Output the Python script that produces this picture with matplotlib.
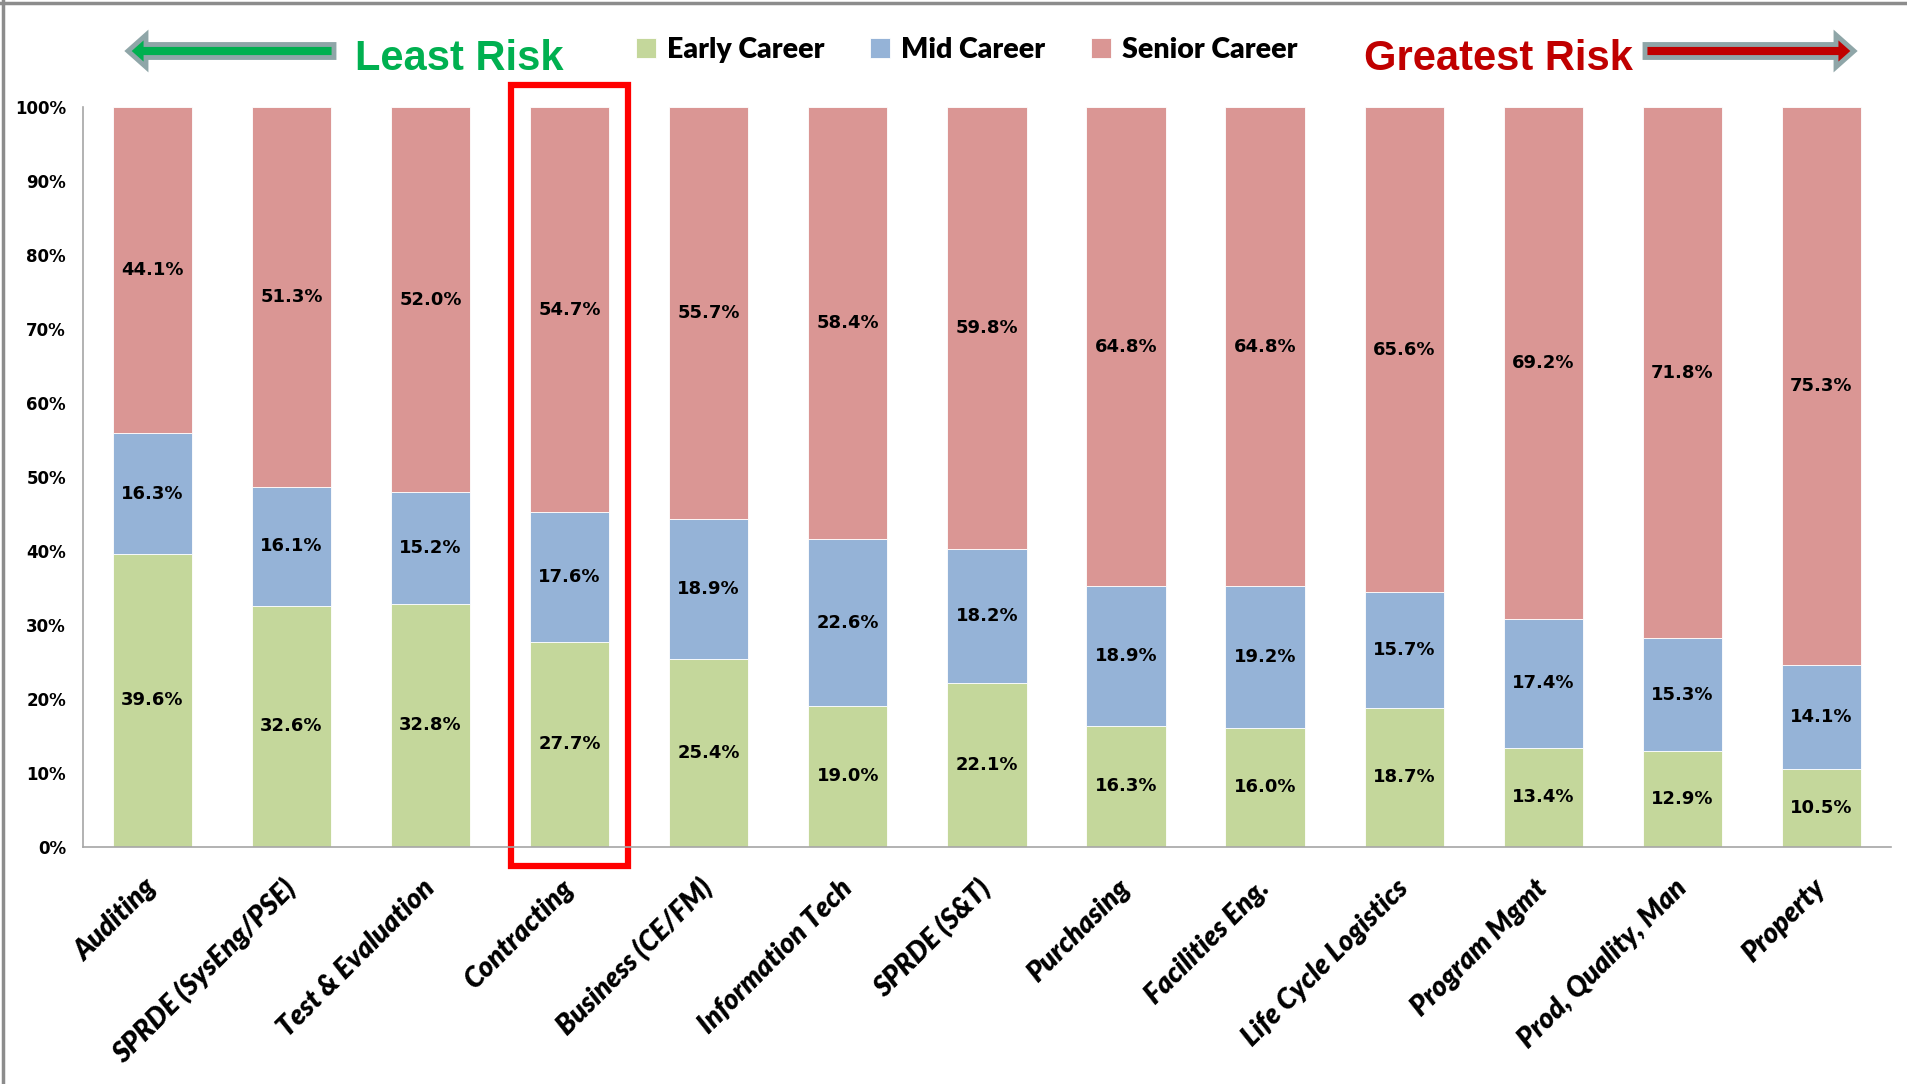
import numpy as np
import matplotlib
matplotlib.use("Agg")
import matplotlib.pyplot as plt
from matplotlib.patches import Polygon, Rectangle
from matplotlib.lines import Line2D

# career-stage mix by career field (percent)
categories = ["Auditing", "SPRDE (SysEng/PSE)", "Test & Evaluation", "Contracting",
              "Business (CE/FM)", "Information Tech", "SPRDE (S&T)", "Purchasing",
              "Facilities Eng.", "Life Cycle Logistics", "Program Mgmt",
              "Prod, Quality, Man", "Property"]
early = [39.6, 32.6, 32.8, 27.7, 25.4, 19.0, 22.1, 16.3, 16.0, 18.7, 13.4, 12.9, 10.5]
mid = [16.3, 16.1, 15.2, 17.6, 18.9, 22.6, 18.2, 18.9, 19.2, 15.7, 17.4, 15.3, 14.1]
senior = [44.1, 51.3, 52.0, 54.7, 55.7, 58.4, 59.8, 64.8, 64.8, 65.6, 69.2, 71.8, 75.3]
series_names = ["Early Career", "Mid Career", "Senior Career"]
highlight = "Contracting"

colors = ["#C4D79B", "#95B3D7", "#DA9694"]

fig = plt.figure(figsize=(19.07, 10.84), dpi=100)
ax = fig.add_axes([0.0434, 0.219, 0.9482, 0.682])

data = np.array([early, mid, senior])
tot = data.sum(axis=0)
norm = data / tot * 100  # 100% stacked
x = np.arange(len(categories))
bottom = np.zeros(len(categories))
handles = []
for k in range(3):
    b = ax.bar(x, norm[k], 0.57, bottom=bottom, color=colors[k],
               edgecolor="white", linewidth=0.6, label=series_names[k])
    handles.append(b)
    for i in range(len(categories)):
        ax.text(x[i], bottom[i] + norm[k][i] / 2, "%.1f%%" % data[k][i],
                ha="center", va="center", fontsize=13, fontweight="bold",
                family="DejaVu Sans", color="black")
    bottom += norm[k]

ax.set_xlim(-0.5, len(categories) - 0.5)
ax.set_ylim(0, 100)
ax.set_yticks(np.arange(0, 101, 10))
ax.set_yticklabels(["%d%%" % v for v in range(0, 101, 10)],
                   fontsize=12, fontweight="bold", family="DejaVu Sans")
ax.set_xticks(x)
ax.set_xticklabels(categories, rotation=45, ha="right", va="center",
                   rotation_mode="anchor", fontsize=20, fontweight="heavy",
                   style="italic", family=["Lato", "DejaVu Sans"])
ax.tick_params(axis="y", length=0, pad=12)
ax.tick_params(axis="x", length=0, pad=27)
for s in ["top", "right"]:
    ax.spines[s].set_visible(False)
for s in ["left", "bottom"]:
    ax.spines[s].set_color("#A6A6A6")
    ax.spines[s].set_linewidth(1.2)

# red box around the highlighted field
hi = categories.index(highlight)
ax.add_patch(Rectangle((hi - 0.42, -2.6), 0.84, 105.6, fill=False,
                       edgecolor="#FF0000", linewidth=4.5, clip_on=False))

# legend
fig.legend(handles=handles, loc="center", bbox_to_anchor=(0.507, 0.954), ncol=3,
           frameon=False, handlelength=0.7, handleheight=0.7, handletextpad=0.4,
           columnspacing=1.6, prop={"family": "Lato", "weight": "heavy", "size": 20.5})

# risk arrows (inches in figure space)
def arrow(x0, x1, yc, face):
    d = 1 if x1 > x0 else -1
    bh, hh, hl = 0.065, 0.16, 0.18
    xh = x1 - d * hl
    pts = [(x0, yc - bh), (xh, yc - bh), (xh, yc - hh), (x1, yc),
           (xh, yc + hh), (xh, yc + bh), (x0, yc + bh)]
    fig.add_artist(Polygon(pts, closed=True, facecolor=face, edgecolor="#8FA6A8",
                           linewidth=3.5, transform=fig.dpi_scale_trans))

arrow(3.34, 1.28, 10.33, "#00B050")
arrow(16.45, 18.54, 10.33, "#C00000")
fig.text(0.186, 0.946, "Least Risk", color="#00B050", fontsize=30, fontweight="bold",
         family="Liberation Sans", ha="left", va="center")
fig.text(0.715, 0.946, "Greatest Risk", color="#C00000", fontsize=30, fontweight="bold",
         family="Liberation Sans", ha="left", va="center")

# frame edges
fig.add_artist(Line2D([0, 1], [0.997, 0.997], transform=fig.transFigure,
                      color="#8C8C8C", linewidth=2.5))
fig.add_artist(Line2D([0.0015, 0.0015], [0, 1], transform=fig.transFigure,
                      color="#8C8C8C", linewidth=2.5))

fig.savefig("out.png", dpi=100)
